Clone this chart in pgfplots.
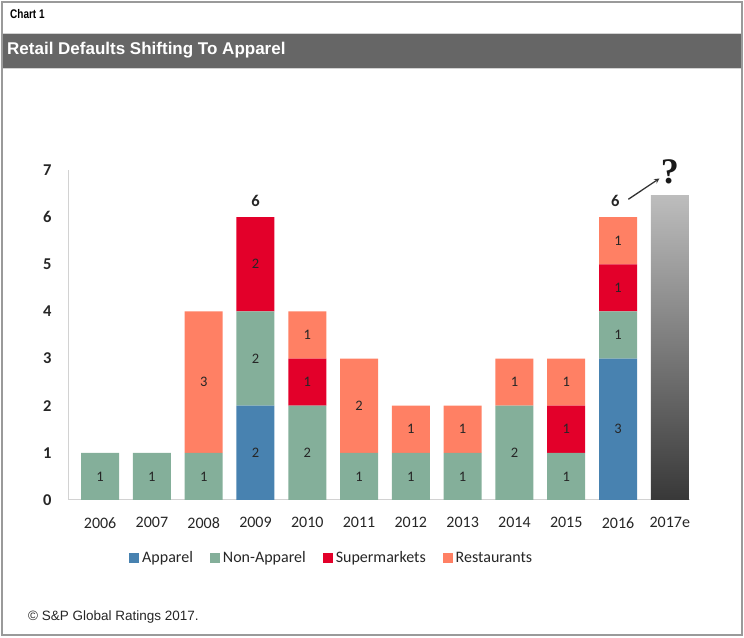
\documentclass[border=0pt]{standalone}
\usepackage{pgfplots}
\pgfplotsset{compat=1.18}
\usepackage{fontspec}
\setmainfont{Carlito}
\newfontfamily\arial{Liberation Sans}
\newfontfamily\serifq{Liberation Serif}
\definecolor{apparel}{HTML}{4882B0}
\definecolor{nonapp}{HTML}{84AF9A}
\definecolor{superm}{HTML}{E3002A}
\definecolor{rest}{HTML}{FF8064}
\definecolor{band}{HTML}{666666}
\definecolor{frame}{HTML}{9A9A9A}
\definecolor{txt}{HTML}{262626}
\tikzset{seg/.style={font=\fontsize{14.5}{16}\selectfont, text=txt}}
\begin{document}
\begin{tikzpicture}[x=1pt,y=1pt]
\useasboundingbox (0,0) rectangle (744,637);
\draw[frame, line width=1.2pt] (2,2) rectangle (742,635);
\node[anchor=west, inner sep=0pt] at (10,623) {\scalebox{0.8}[1]{\arial\bfseries\fontsize{12.5}{14}\selectfont Chart 1}};
\fill[band] (2.6,569) rectangle (741.4,604);
\draw[gray!35, line width=0.8pt] (2.6,604) -- (741.4,604);
\draw[gray!35, line width=0.8pt] (2.6,569) -- (741.4,569);
\node[anchor=west, inner sep=0pt, text=white] at (7,586.5) {\arial\bfseries\fontsize{17}{19}\selectfont Retail Defaults Shifting To Apparel};
\node[anchor=west, inner sep=0pt, text=txt] at (28,20) {\arial\fontsize{13.5}{16}\selectfont \textcopyright\ S\&P Global Ratings 2017.};

\begin{axis}[
  at={(68pt,137pt)}, anchor=south west, scale only axis,
  width=622pt, height=330pt,
  xmin=-0.62, xmax=11.39, ymin=0, ymax=7,
  ybar stacked, bar width=38pt,
  axis x line*=bottom, axis y line*=left,
  axis line style={draw=gray!35, line width=1pt, -},
  xtick={0,...,11},
  xticklabels={2006,2007,2008,2009,2010,2011,2012,2013,2014,2015,2016,2017e},
  ytick={0,...,7},
  major tick length=0pt, tick style={draw=none},
  /pgf/number format/assume math mode=true,
  xticklabel style={font=\fontsize{16}{18}\selectfont, text=txt, yshift=-14pt},
  yticklabel style={font=\bfseries\fontsize{16.5}{18}\selectfont, text=txt, xshift=-13pt},
  legend style={at={(0.424,-0.176)}, anchor=center, draw=none, fill=none,
    legend columns=4, font=\fontsize{16}{18}\selectfont, text=txt,
    /tikz/every even column/.append style={column sep=15pt},
    /tikz/every odd column/.append style={column sep=1pt}},
  legend image code/.code={\fill[#1] (0pt,-5pt) rectangle (10pt,5pt);},
  clip=false,
]
\addplot[draw=none, fill=apparel] coordinates {(0,0)(1,0)(2,0)(3,2)(4,0)(5,0)(6,0)(7,0)(8,0)(9,0)(10,3)};
\addplot[draw=none, fill=nonapp] coordinates {(0,1)(1,1)(2,1)(3,2)(4,2)(5,1)(6,1)(7,1)(8,2)(9,1)(10,1)};
\addplot[draw=none, fill=superm] coordinates {(0,0)(1,0)(2,0)(3,2)(4,1)(5,0)(6,0)(7,0)(8,0)(9,1)(10,1)};
\addplot[draw=none, fill=rest] coordinates {(0,0)(1,0)(2,3)(3,0)(4,1)(5,2)(6,1)(7,1)(8,1)(9,1)(10,1)};
\legend{Apparel,Non-Apparel,Supermarkets,Restaurants}
\end{axis}

\begin{axis}[
  at={(68pt,137pt)}, anchor=south west, scale only axis,
  width=622pt, height=330pt,
  xmin=-0.62, xmax=11.39, ymin=0, ymax=7,
  hide axis, ybar, bar width=38pt, clip=false,
]
\addplot[draw=none, top color=black!26, bottom color=black!78] coordinates {(11,6.45)};
\draw[-stealth, line width=1.3pt, black!80] (axis cs:10.2,6.38) -- (axis cs:10.8,6.82);
\node[text=black!90] at (axis cs:11.0,6.96) {\serifq\bfseries\fontsize{36}{38}\selectfont ?};
\node[seg] at (axis cs:0,0.5) {1};
\node[seg] at (axis cs:1,0.5) {1};
\node[seg] at (axis cs:2,0.5) {1};
\node[seg] at (axis cs:2,2.5) {3};
\node[seg] at (axis cs:3,1) {2};
\node[seg] at (axis cs:3,3) {2};
\node[seg] at (axis cs:3,5) {2};
\node[seg] at (axis cs:4,1) {2};
\node[seg] at (axis cs:4,2.5) {1};
\node[seg] at (axis cs:4,3.5) {1};
\node[seg] at (axis cs:5,0.5) {1};
\node[seg] at (axis cs:5,2) {2};
\node[seg] at (axis cs:6,0.5) {1};
\node[seg] at (axis cs:6,1.5) {1};
\node[seg] at (axis cs:7,0.5) {1};
\node[seg] at (axis cs:7,1.5) {1};
\node[seg] at (axis cs:8,1) {2};
\node[seg] at (axis cs:8,2.5) {1};
\node[seg] at (axis cs:9,0.5) {1};
\node[seg] at (axis cs:9,1.5) {1};
\node[seg] at (axis cs:9,2.5) {1};
\node[seg] at (axis cs:10,1.5) {3};
\node[seg] at (axis cs:10,3.5) {1};
\node[seg] at (axis cs:10,4.5) {1};
\node[seg] at (axis cs:10,5.5) {1};
\node[font=\bfseries\fontsize{16.5}{18}\selectfont, text=txt] at (axis cs:3,6.35) {6};
\node[font=\bfseries\fontsize{16.5}{18}\selectfont, text=txt] at (axis cs:9.95,6.35) {6};
\end{axis}
\end{tikzpicture}
\end{document}
